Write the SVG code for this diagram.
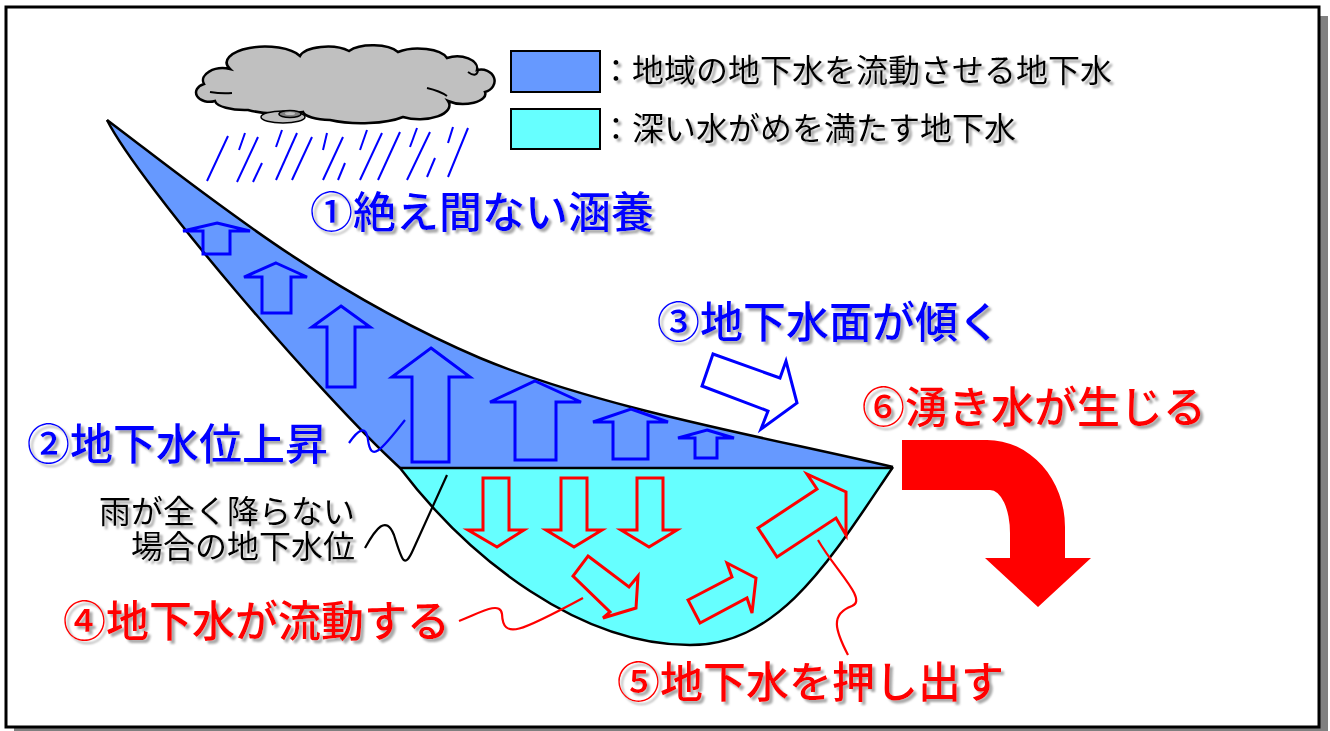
<svg xmlns="http://www.w3.org/2000/svg" width="1330" height="731" viewBox="0 0 1330 731">
  <defs>
    <style>
      .jp { font-family: "Noto Sans CJK JP", "Noto Sans", sans-serif; }
      .big { font-size: 43px; font-weight: 500; filter: url(#tshadow); }
      .blue { fill: #0000FF; }
      .red { fill: #FF0000; }
      .legend { font-size: 32px; fill: #000; filter: url(#tshadow); }
      .note { font-size: 32px; fill: #000; filter: url(#tshadow); }
      .outline { stroke: #000; stroke-width: 2.5; fill: none; }
      .up { fill: none; stroke: #0000FF; stroke-width: 3; stroke-linejoin: miter; }
      .flow { fill: none; stroke: #FF0000; stroke-width: 3; stroke-linejoin: miter; }
      .rain { stroke: #0000FF; stroke-width: 2; stroke-linecap: butt; }
      .lead { fill: none; stroke-width: 2.2; }
    </style>
    <filter id="tshadow" x="-5%" y="-20%" width="115%" height="150%">
      <feDropShadow dx="3" dy="3" stdDeviation="1.2" flood-color="#999999" flood-opacity="0.85"/>
    </filter>
  </defs>

  <!-- frame with offset shadow -->
  <rect x="14" y="16" width="1314" height="719" fill="#808080"/>
  <rect x="6" y="7" width="1313" height="720" fill="#FFFFFF" stroke="#000" stroke-width="3"/>

  <!-- cloud and rain -->
  <g id="cloud">
    <path d="M215,101 A13,9 0 0 1 204,84 A20,12 0 0 1 230,69 A36,15 0 0 1 300,56 A28,12 0 0 1 349,51 A28,12 0 0 1 398,52 A30,13 0 0 1 447,58 A20,12 0 0 1 477,70 A13,11 0 0 1 485,92 A22,10 0 0 1 448,101 A30,14 0 0 1 403,117 A50,14 0 0 1 330,120 A30,9 0 0 1 303,112 A45,12 0 0 1 248,110 A30,10 0 0 1 215,101 Z" fill="#C0C0C0" stroke="#000" stroke-width="2.5"/>
    <path d="M210,92 Q222,94 232,93 M427,88 Q440,91 447,96 M468,72 Q476,78 478,71" fill="none" stroke="#000" stroke-width="2"/>
    <ellipse cx="283" cy="117" rx="22" ry="6" fill="#C0C0C0" stroke="#000" stroke-width="1.5"/>
    <ellipse cx="290" cy="114" rx="11" ry="3.5" fill="#808080" stroke="#000" stroke-width="1.5"/>
    <ellipse cx="290" cy="113.5" rx="5" ry="1.5" fill="#C0C0C0"/>
  </g>
  <g id="rain" class="rain">
    <line x1="228" y1="136" x2="207" y2="181"/>
    <line x1="245" y1="133" x2="239" y2="150"/>
    <line x1="258" y1="137" x2="237" y2="182"/>
    <line x1="262" y1="163" x2="253" y2="182"/>
    <line x1="282" y1="130" x2="276" y2="147"/>
    <line x1="297" y1="133" x2="276" y2="180"/>
    <line x1="312" y1="137" x2="292" y2="180"/>
    <line x1="327" y1="133" x2="323" y2="150"/>
    <line x1="343" y1="137" x2="323" y2="180"/>
    <line x1="345" y1="163" x2="338" y2="180"/>
    <line x1="367" y1="130" x2="360" y2="150"/>
    <line x1="382" y1="133" x2="360" y2="180"/>
    <line x1="400" y1="132" x2="378" y2="180"/>
    <line x1="417" y1="128" x2="410" y2="147"/>
    <line x1="430" y1="132" x2="407" y2="180"/>
    <line x1="435" y1="158" x2="427" y2="177"/>
    <line x1="453" y1="127" x2="448" y2="143"/>
    <line x1="468" y1="128" x2="448" y2="177"/>
  </g>

  <!-- legend -->
  <g id="legend">
    <rect x="511" y="51" width="89" height="41" fill="#6699FF" stroke="#000" stroke-width="2"/>
    <text class="jp legend" x="600" y="82">：地域の地下水を流動させる地下水</text>
    <rect x="511" y="109" width="89" height="40" fill="#66FFFF" stroke="#000" stroke-width="2"/>
    <text class="jp legend" x="600" y="140">：深い水がめを満たす地下水</text>
  </g>

  <!-- aquifer cross-section -->
  <g id="deep-water">
    <path d="M400,468 C470,560 580,645 690,645 C780,645 830,560 893,467 Z" fill="#66FFFF"/>
  </g>
  <g id="shallow-water">
    <path d="M107,120 C200,190 320,290 480,358 C600,408 760,436 893,467 L400,468 C320,395 140,185 107,120 Z" fill="#6699FF"/>
  </g>
  <g id="ground-lines" class="outline">
    <path d="M107,120 C200,190 320,290 480,358 C600,408 760,436 893,467"/>
    <path d="M107,120 C140,185 320,395 400,468 C470,560 580,645 690,645 C780,645 830,560 893,467"/>
    <line x1="400" y1="468" x2="893" y2="468"/>
  </g>

  <!-- recharge arrows (upward) -->
  <g id="rise-arrows" class="up">
    <polygon points="217,223 250,231 230,231 230,254 203,254 203,231 183,231"/>
    <polygon points="276,263 307,277 291,277 291,313 262,313 262,277 244,277"/>
    <polygon points="341,306 370,327 355,327 355,387 327,387 327,327 312,327"/>
    <polygon points="431,348 470,377 449,377 449,462 412,462 412,377 392,377"/>
    <polygon points="535,381 581,402 556,402 556,460 515,460 515,402 490,402"/>
    <polygon points="631,409 668,422 648,422 648,459 613,459 613,422 593,422"/>
    <polygon points="707,430 734,438 717,438 717,458 695,458 695,438 678,438"/>
  </g>

  <!-- downward and lateral flow arrows -->
  <g id="flow-arrows" class="flow">
    <polygon points="483,478 509,478 509,530 524,530 497,547 468,530 483,530"/>
    <polygon points="561,478 587,478 587,530 602,530 574,547 546,530 561,530"/>
    <polygon points="637,478 663,478 663,530 677,530 649,547 621,530 637,530"/>
    <polygon points="588,556 629,587 638,576 636,608 603,618 610,612 573,576"/>
    <polygon points="688,600 732,577 727,563 756,578 752,613 747,598 700,623"/>
    <polygon points="758,528 817,489 807,474 846,492 846,535 836,518 777,557"/>
  </g>

  <!-- water table tilt arrow -->
  <g id="tilt-arrow">
    <polygon points="713,354 780,378 786,361 797,403 761,429 768,411 702,386" fill="#FFFFFF" stroke="#0000FF" stroke-width="3"/>
  </g>

  <!-- spring discharge arrow -->
  <g id="spring-arrow">
    <path d="M902,440 L987,440 A78,87 0 0 1 1065,527 L1065,558 L1091,558 L1038,607 L985,558 L1010,558 L1010,533 A20,43 0 0 0 990,490 L902,490 Z" fill="#FF0000"/>
  </g>

  <!-- leader lines -->
  <g id="connectors">
    <path class="lead" stroke="#0000FF" d="M349,443 C358,430 366,424 368,440 C371,462 380,452 405,420"/>
    <path class="lead" stroke="#000" d="M365,548 C376,528 386,515 394,535 C402,560 404,570 413,550 L447,475"/>
    <path class="lead" stroke="#FF0000" d="M459,621 C478,614 500,600 502,614 C503,640 520,632 583,598"/>
    <path class="lead" stroke="#FF0000" d="M818,540 C835,570 868,600 852,606 C830,614 835,630 848,655"/>
  </g>

  <!-- labels -->
  <g id="label-1"><text class="jp big blue" x="310" y="228">①絶え間ない涵養</text></g>
  <g id="label-2"><text class="jp big blue" x="27" y="460">②地下水位上昇</text></g>
  <g id="label-3"><text class="jp big blue" x="657" y="338">③地下水面が傾く</text></g>
  <g id="label-4"><text class="jp big red" x="63" y="637">④地下水が流動する</text></g>
  <g id="label-5"><text class="jp big red" x="617" y="698">⑤地下水を押し出す</text></g>
  <g id="label-6"><text class="jp big red" x="862" y="423">⑥湧き水が生じる</text></g>
  <g id="label-dry">
    <text class="jp note" x="355" y="523" text-anchor="end">雨が全く降らない</text>
    <text class="jp note" x="355" y="558" text-anchor="end">場合の地下水位</text>
  </g>
</svg>
